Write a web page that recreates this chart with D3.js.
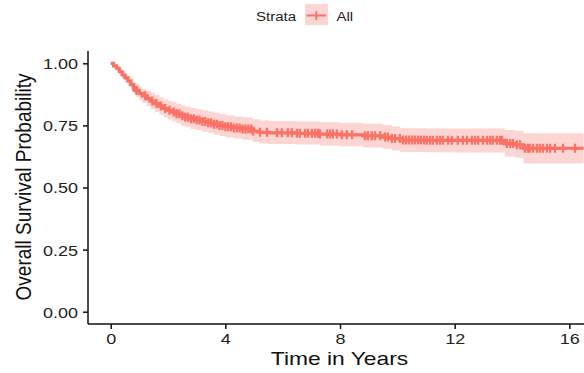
<!DOCTYPE html>
<html>
<head>
<meta charset="utf-8">
<script src="https://cdn.jsdelivr.net/npm/d3@7"></script>
<style>
  html, body { margin: 0; padding: 0; background: #fff; }
  svg { display: block; font-family: "Liberation Sans", Arial, sans-serif; }
</style>
</head>
<body>
<svg id="chart" width="584" height="373"></svg>
<script>
// ---- data ----
const stepTime = [0, 0.1, 0.2, 0.3, 0.4, 0.5, 0.6, 0.7, 0.8, 0.9, 1.0, 1.1, 1.25, 1.4, 1.55, 1.7, 1.85, 2.0, 2.15, 2.3, 2.45, 2.6, 2.8, 3.0, 3.2, 3.4, 3.6, 3.8, 4.0, 4.3, 4.6, 4.95, 5.2, 5.5, 6.5, 7.3, 8.0, 8.8, 9.5, 9.8, 10.1, 11.0, 12.0, 13.75, 14.1, 14.4, 16.5];
const survival = [1.000, 0.990, 0.980, 0.966, 0.953, 0.941, 0.929, 0.914, 0.900, 0.890, 0.879, 0.869, 0.858, 0.848, 0.838, 0.828, 0.818, 0.811, 0.804, 0.797, 0.789, 0.783, 0.777, 0.772, 0.766, 0.761, 0.755, 0.750, 0.745, 0.740, 0.736, 0.727, 0.722, 0.720, 0.718, 0.715, 0.712, 0.708, 0.703, 0.697, 0.691, 0.690, 0.690, 0.677, 0.672, 0.658, 0.658];
const lowerCI = [1.000, 0.982, 0.969, 0.952, 0.937, 0.923, 0.909, 0.892, 0.876, 0.864, 0.851, 0.840, 0.827, 0.815, 0.804, 0.793, 0.782, 0.774, 0.766, 0.758, 0.749, 0.743, 0.736, 0.731, 0.724, 0.719, 0.712, 0.707, 0.702, 0.697, 0.692, 0.683, 0.677, 0.675, 0.673, 0.669, 0.666, 0.661, 0.656, 0.649, 0.643, 0.642, 0.641, 0.625, 0.620, 0.597, 0.597];
const upperCI = [1.000, 0.998, 0.991, 0.980, 0.969, 0.959, 0.949, 0.936, 0.924, 0.916, 0.907, 0.898, 0.889, 0.881, 0.872, 0.863, 0.855, 0.849, 0.843, 0.837, 0.830, 0.825, 0.820, 0.815, 0.810, 0.806, 0.801, 0.796, 0.791, 0.786, 0.783, 0.775, 0.770, 0.768, 0.766, 0.763, 0.760, 0.757, 0.752, 0.746, 0.739, 0.738, 0.738, 0.731, 0.728, 0.718, 0.718];
const censorTime = [0.9, 1.2, 1.45, 1.6, 1.75, 1.9, 2.05, 2.2, 2.3, 2.4, 2.5, 2.6, 2.7, 2.8, 2.9, 3.0, 3.1, 3.2, 3.3, 3.4, 3.5, 3.6, 3.7, 3.8, 3.9, 4.0, 4.1, 4.2, 4.3, 4.4, 4.5, 4.6, 4.7, 4.8, 4.9,
  4.97, 5.21, 5.45, 5.8, 5.97, 6.18, 6.32, 6.5, 6.6, 6.78, 6.88, 7.02, 7.13, 7.23, 7.3, 7.55, 7.65, 7.75, 7.89, 8.07, 8.24, 8.42, 8.87, 8.97, 9.11, 9.22, 9.4, 9.57, 9.67, 9.81, 9.92,
  10.09, 10.2, 10.3, 10.4, 10.51, 10.61, 10.72, 10.82, 10.93, 11.03, 11.14, 11.24, 11.38, 11.49, 11.59, 11.77, 11.9, 12.11, 12.29, 12.43, 12.6, 12.71, 12.82, 12.99, 13.13, 13.24, 13.33, 13.47, 13.58, 13.65,
  13.82, 13.93, 14.03, 14.17, 14.28, 14.45, 14.55, 14.62, 14.73, 14.87, 14.97, 15.08, 15.22, 15.33, 15.5, 15.78, 16.2];
const xTicks = [0, 4, 8, 12, 16];
const yTicks = [0, 0.25, 0.5, 0.75, 1];
const xTitle = "Time in Years";
const yTitle = "Overall Survival Probability";
const legendTitle = "Strata";
const legendLabel = "All";

// ---- layout ----
const red = "#FA7166";
const bandFill = "#FDD6D3";
const stretch = 1.2;
const panel = { left: 88, right: 584, top: 51, bottom: 324 };

const svg = d3.select("#chart");
const x = d3.scaleLinear().domain([0, 16]).range([110.7, 569.3]);
const y = d3.scaleLinear().domain([0, 1]).range([311.7, 63.3]);

const rows = stepTime.map((t, i) => ({ t, s: survival[i], lo: lowerCI[i], hi: upperCI[i] }));

// confidence band
svg.append("path")
  .datum(rows)
  .attr("fill", bandFill)
  .attr("d", d3.area().curve(d3.curveStepAfter)
    .x(d => x(d.t)).y0(d => y(d.lo)).y1(d => y(d.hi)));

// survival step line
svg.append("path")
  .datum(rows)
  .attr("fill", "none")
  .attr("stroke", red)
  .attr("stroke-width", 3.2)
  .attr("d", d3.line().curve(d3.curveStepAfter).x(d => x(d.t)).y(d => y(d.s)));

// censor marks
const bis = d3.bisector(d => d.t).right;
const survAt = t => rows[Math.max(0, bis(rows, t) - 1)].s;
svg.append("g").selectAll("path")
  .data(censorTime)
  .join("path")
  .attr("transform", t => `translate(${x(t)},${y(survAt(t))})`)
  .attr("d", "M0,-4.5V4.5M-4,0H4")
  .attr("stroke", red)
  .attr("stroke-width", 2.3)
  .attr("fill", "none");

// axes
const gx = svg.append("g").attr("transform", `translate(0,${panel.bottom})`)
  .call(d3.axisBottom(x).tickValues(xTicks).tickSize(5).tickPadding(4).tickFormat(d3.format("d")));
gx.select(".domain").attr("d", `M${panel.left},0H${panel.right}`);
const gy = svg.append("g").attr("transform", `translate(${panel.left},0)`)
  .call(d3.axisLeft(y).tickValues(yTicks).tickSize(5).tickPadding(5).tickFormat(d3.format(".2f")));
gy.select(".domain").attr("d", `M0,${panel.top}V${panel.bottom}`);
[gx, gy].forEach(g => {
  g.select(".domain").attr("stroke", "#111").attr("stroke-width", 1.5);
  g.selectAll(".tick line").attr("stroke", "#111").attr("stroke-width", 1.5);
  g.selectAll(".tick text").attr("fill", "#222").attr("font-size", 15)
    .attr("font-family", "Liberation Sans, Arial, sans-serif");
});
gx.selectAll(".tick text").attr("dy", null).attr("y", 20);
gy.selectAll(".tick text").attr("dy", "0.36em");

// axis titles
svg.append("text").attr("class", "stretch")
  .attr("x", 339.5).attr("y", 365).attr("text-anchor", "middle")
  .attr("font-size", 19).attr("fill", "#111").text(xTitle);
svg.append("text")
  .attr("transform", `translate(31,187) rotate(-90) scale(1,${stretch})`)
  .attr("text-anchor", "middle").attr("font-size", 19).attr("fill", "#111").text(yTitle);

// legend
const leg = svg.append("g");
leg.append("text").attr("class", "stretch").attr("x", 256).attr("y", 20.5)
  .attr("font-size", 12.5).attr("fill", "#222").text(legendTitle);
leg.append("rect").attr("x", 305).attr("y", 4).attr("width", 23).attr("height", 21).attr("fill", bandFill);
leg.append("path").attr("d", "M306.5,15.5H326").attr("stroke", red).attr("stroke-width", 2);
leg.append("path").attr("d", "M316.3,11V20").attr("stroke", red).attr("stroke-width", 1.8);
leg.append("text").attr("class", "stretch").attr("x", 336.5).attr("y", 20.5)
  .attr("font-size", 12.5).attr("fill", "#222").text(legendLabel);

// horizontal stretch of text, like the reference
svg.selectAll(".tick text").classed("stretch", true);
svg.selectAll("text.stretch").each(function () {
  const w = this.getComputedTextLength();
  d3.select(this).attr("textLength", w * stretch).attr("lengthAdjust", "spacingAndGlyphs");
});
</script>
</body>
</html>
